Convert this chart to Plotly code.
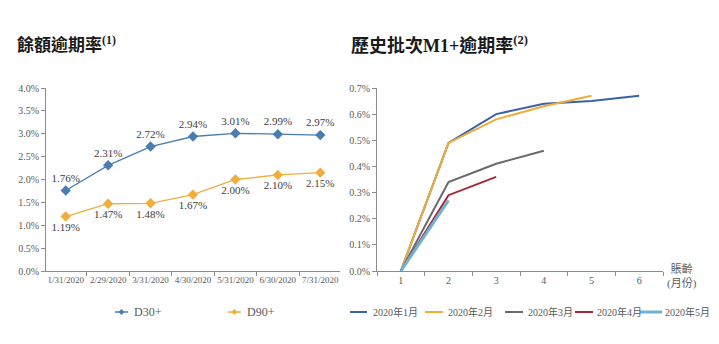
import plotly.graph_objects as go

dates = ["1/31/2020", "2/29/2020", "3/31/2020", "4/30/2020", "5/31/2020", "6/30/2020", "7/31/2020"]
d30 = [0.0176, 0.0231, 0.0272, 0.0294, 0.0301, 0.0299, 0.0297]
d90 = [0.0119, 0.0147, 0.0148, 0.0167, 0.0200, 0.0210, 0.0215]

months = ["1", "2", "3", "4", "5", "6"]
vintage_names = ["2020年1月", "2020年2月", "2020年3月", "2020年4月", "2020年5月"]
vintage_vals = [
    [0.0, 0.0049, 0.0060, 0.0064, 0.0065, 0.0067],
    [0.0, 0.0049, 0.0058, 0.0063, 0.0067],
    [0.0, 0.0034, 0.0041, 0.0046],
    [0.0, 0.0029, 0.0036],
    [0.0, 0.0027],
]
vintage_colors = ["#3c62a6", "#f0ac3a", "#6a6a6a", "#a3263a", "#6cb3d3"]
vintage_widths = [2, 2, 2, 2, 3]

W, H = 719, 344
FONT = "Liberation Serif, Noto Sans CJK TC, serif"
GRAY = "#595959"
C30, C90 = "#4b7db3", "#f0ae3c"

fig = go.Figure()

fig.add_trace(go.Scatter(
    x=dates, y=d30, mode="lines+markers+text", name="D30+",
    line=dict(color=C30, width=1.3),
    marker=dict(symbol="diamond", size=8, color=C30),
    text=[f"{v*100:.2f}%" for v in d30], textposition="top center",
    textfont=dict(size=11, color="#404040", family=FONT),
    xaxis="x", yaxis="y",
))
fig.add_trace(go.Scatter(
    x=dates, y=d90, mode="lines+markers+text", name="D90+",
    line=dict(color=C90, width=1.3),
    marker=dict(symbol="diamond", size=8, color=C90),
    text=[f"{v*100:.2f}%" for v in d90], textposition="bottom center",
    textfont=dict(size=11, color="#404040", family=FONT),
    xaxis="x", yaxis="y",
))

for name, vals, c, w in zip(vintage_names, vintage_vals, vintage_colors, vintage_widths):
    fig.add_trace(go.Scatter(
        x=months[:len(vals)], y=vals, mode="lines", name=name,
        line=dict(color=c, width=w),
        xaxis="x2", yaxis="y2",
    ))

axis_common = dict(
    showgrid=False, zeroline=False, showline=True, linecolor="#8c8c8c", linewidth=1,
    ticks="outside", ticklen=4, tickcolor="#8c8c8c",
    tickfont=dict(size=10, color=GRAY, family=FONT),
)

fig.update_layout(
    width=W, height=H,
    margin=dict(l=0, r=0, t=0, b=0, autoexpand=False),
    paper_bgcolor="white", plot_bgcolor="white",
    font=dict(family=FONT, color=GRAY),
    showlegend=False,
    xaxis=dict(domain=[46/W, 340/W], type="category", tickson="boundaries",
               tickangle=0, anchor="y", **{**axis_common, "tickfont": dict(size=9, color=GRAY, family=FONT)}),
    yaxis=dict(domain=[(H-271)/H, (H-88)/H], range=[0, 0.04], dtick=0.005,
               tickformat=".1%", anchor="x", **axis_common),
    xaxis2=dict(domain=[377/W, 663/W], type="category", tickson="boundaries",
                range=[-0.5, 5.5], tickangle=0, anchor="y2", **axis_common),
    yaxis2=dict(domain=[(H-271)/H, (H-88)/H], range=[0, 0.007], dtick=0.001,
                tickformat=".1%", anchor="x2", **axis_common),
)

def px(x):
    return x / W

def py(y):
    return (H - y) / H

# titles
fig.add_annotation(x=px(15), y=py(44), xref="paper", yref="paper", xanchor="left", yanchor="middle",
                   text="<b>餘額逾期率</b><sup><b>(1)</b></sup>", showarrow=False,
                   font=dict(size=17, color="#1a1a1a", family=FONT))
fig.add_annotation(x=px(349), y=py(44), xref="paper", yref="paper", xanchor="left", yanchor="middle",
                   text="<b>歷史批次M1+逾期率</b><sup><b>(2)</b></sup>", showarrow=False,
                   font=dict(size=18, color="#1a1a1a", family=FONT))
# x axis title for right chart
fig.add_annotation(x=px(682), y=py(276), xref="paper", yref="paper", xanchor="center", yanchor="middle",
                   text="賬齡<br>(月份)", showarrow=False,
                   font=dict(size=11, color=GRAY, family=FONT))

# left legend (manual)
left_leg = [("D30+", C30, 115, 128, 132), ("D90+", C90, 228, 241, 245)]
for name, c, x0, x1, xt in left_leg:
    fig.add_shape(type="line", xref="paper", yref="paper", x0=px(x0), x1=px(x1), y0=py(312), y1=py(312),
                  line=dict(color=c, width=1.5))
    xm = (x0 + x1) / 2
    fig.add_shape(type="path", xref="paper", yref="paper",
                  path=f"M {px(xm-3)} {py(312)} L {px(xm)} {py(309)} L {px(xm+3)} {py(312)} L {px(xm)} {py(315)} Z",
                  fillcolor=c, line=dict(color=c, width=0))
    fig.add_annotation(x=px(xt), y=py(312), xref="paper", yref="paper", xanchor="left", yanchor="middle",
                       text=name, showarrow=False, font=dict(size=12, color=GRAY, family=FONT))

# right legend (manual)
right_pos = [(350, 367, 371), (425, 443, 446), (505, 523, 526), (575, 593, 595), (640, 662, 663)]
for name, c, w, (x0, x1, xt) in zip(vintage_names, vintage_colors, vintage_widths, right_pos):
    fig.add_shape(type="line", xref="paper", yref="paper", x0=px(x0), x1=px(x1), y0=py(312), y1=py(312),
                  line=dict(color=c, width=w))
    fig.add_annotation(x=px(xt), y=py(312), xref="paper", yref="paper", xanchor="left", yanchor="middle",
                       text=name, showarrow=False, font=dict(size=10, color=GRAY, family=FONT))

fig.write_html("out.html")
